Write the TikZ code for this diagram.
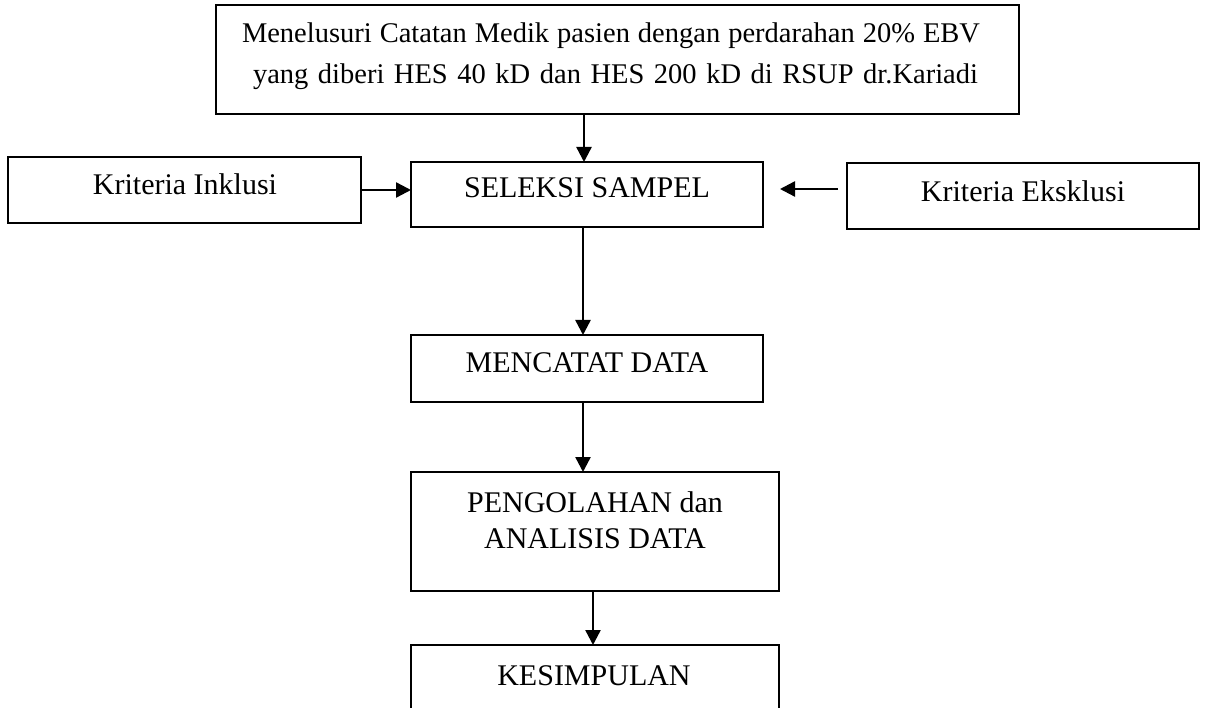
\documentclass[tikz,border=0pt]{standalone}
\usepackage{fontspec}
\setmainfont{Liberation Serif}
\usetikzlibrary{arrows.meta}
\tikzset{
  box/.style={draw, line width=1.6pt, inner sep=0pt, outer sep=0pt, anchor=north west},
  lbl/.style={anchor=base, inner sep=0pt, font=\fontsize{30}{36}\selectfont},
  toplbl/.style={anchor=base, inner sep=0pt, font=\fontsize{28.5}{41}\selectfont},
  arr/.style={line width=2.4pt, -{Triangle[length=15pt,width=15pt]}}
}
\begin{document}
\begin{tikzpicture}[x=1pt,y=-1pt]
\path[use as bounding box] (0,0) rectangle (1205,708);
\clip (0,0) rectangle (1205,708);
% boxes
\node[box, minimum width=803pt, minimum height=109pt] (top) at (216,5) {};
\node[box, minimum width=353pt, minimum height=66pt] (ink) at (8,157) {};
\node[box, minimum width=352pt, minimum height=65pt] (sel) at (411,162) {};
\node[box, minimum width=352pt, minimum height=66pt] (eks) at (847,163) {};
\node[box, minimum width=352pt, minimum height=67pt] (men) at (411,335) {};
\node[box, minimum width=368pt, minimum height=119pt] (peng) at (411,472) {};
\node[box, minimum width=368pt, minimum height=85pt] (kes) at (411,645) {};
% texts
\node[toplbl] (t1) at (611,43) {\makebox[738pt][s]{Menelusuri Catatan Medik pasien dengan perdarahan 20\% EBV}};
\node[toplbl] (t2) at (615.5,84) {\makebox[725pt][s]{yang diberi HES 40 kD dan HES 200 kD di RSUP dr.Kariadi}};
\node[lbl] (tink) at (185,195) {Kriteria Inklusi};
\node[lbl] (tsel) at (587,198) {SELEKSI SAMPEL};
\node[lbl] (teks) at (1023,202) {Kriteria Eksklusi};
\node[lbl] (tmen) at (587,373) {MENCATAT DATA};
\node[lbl] (tp1) at (595,512) {PENGOLAHAN dan};
\node[lbl] (tp2) at (595,548) {ANALISIS DATA};
\node[lbl] (tkes) at (594,685) {KESIMPULAN};
% connectors
\coordinate (e1) at (838,189);
\coordinate (e2) at (780,189);
\draw[arr] ([xshift=-33.5pt]top.south) -- ([xshift=-3pt]sel.north);
\draw[arr] (ink.east) -- (sel.west |- ink.east);
\draw[arr] (e1) -- (e2);
\draw[arr] ([xshift=-4pt]sel.south) -- ([xshift=-4pt]men.north);
\draw[arr] ([xshift=-4pt]men.south) -- ([xshift=-12pt]peng.north);
\draw[arr] ([xshift=-2pt]peng.south) -- ([xshift=-2pt]kes.north);
\end{tikzpicture}
\end{document}
